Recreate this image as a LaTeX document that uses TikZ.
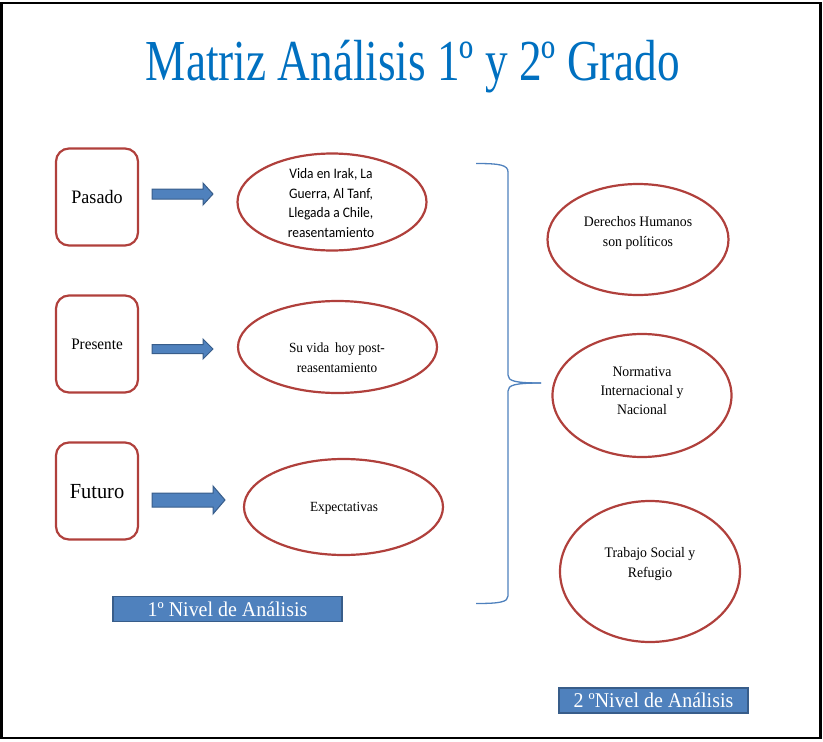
\documentclass[tikz,border=0pt]{standalone}
\usepackage{fontspec}
\setmainfont{Liberation Serif}
\newfontfamily\tnr[FakeStretch=0.95]{Liberation Serif}
\newfontfamily\tnrtitle[FakeStretch=0.78]{Liberation Serif}
\newfontfamily\calfont[FakeStretch=0.93]{Carlito}
\usetikzlibrary{shapes.geometric}
\definecolor{redc}{HTML}{B0403C}
\definecolor{bluef}{HTML}{4F81BD}
\definecolor{blued}{HTML}{385D8A}
\definecolor{titleblue}{HTML}{0070C0}
\begin{document}
\begin{tikzpicture}[x=1pt,y=-1pt,
  tbox/.style={draw=redc, line width=2.2pt, rounded corners=13pt, minimum width=82pt, minimum height=97pt, inner sep=0pt, text depth=0pt},
  ell/.style={draw=redc, ellipse, line width=2.2pt, inner sep=0pt},
  txt/.style={align=center, inner sep=0pt, font=\tnr\fontsize{14}{20}\selectfont},
  blk/.style={fill=bluef, draw=blued, line width=1pt, line join=miter},
  lbl/.style={fill=bluef, draw=blued, line width=1.2pt, text=white, inner sep=0pt, font=\tnr\fontsize{21}{24}\selectfont},
  brace/.style={draw=bluef, line width=1.3pt}]
\useasboundingbox (0,0) rectangle (823,742);
\draw[line width=2.6pt] (1.3,3) rectangle (820.7,738);
% title
\node[anchor=base, text=titleblue, inner sep=0pt, font=\tnrtitle\fontsize{58}{60}\selectfont] (title) at (413,80) {Matriz Análisis 1º y 2º Grado};
% left boxes
\node[tbox, font=\tnr\fontsize{19}{22}\selectfont] (p1) at (97,197) {Pasado};
\node[tbox, font=\tnr\fontsize{16}{20}\selectfont] (p2) at (97,344) {Presente};
\node[tbox, font=\tnr\fontsize{21.5}{24}\selectfont] (p3) at (97,491) {Futuro};
% arrows
\filldraw[blk] (152,189) -- (203,189) -- (203,183) -- (213,194) -- (203,205) -- (203,199) -- (152,199) -- cycle;
\filldraw[blk] (152,344.5) -- (203,344.5) -- (203,339) -- (213,349) -- (203,359) -- (203,353.5) -- (152,353.5) -- cycle;
\filldraw[blk] (152,493) -- (213,493) -- (213,486) -- (225,500) -- (213,514) -- (213,507) -- (152,507) -- cycle;
% middle ellipses
\node[ell, minimum width=189pt, minimum height=97pt] (e1) at (332,202) {};
\node[align=center, inner sep=0pt, font=\calfont\fontsize{14.5}{19.5}\selectfont] (t1) at (331,203) {Vida en Irak, La\\Guerra, Al Tanf,\\Llegada a Chile,\\reasentamiento};
\node[ell, minimum width=199pt, minimum height=92pt] (e2) at (337.5,347) {};
\node[txt] (t2) at (337,358) {Su vida\, hoy post-\\reasentamiento};
\node[ell, minimum width=199pt, minimum height=96pt] (e3) at (343.5,507) {};
\node[txt] (t3) at (344,508) {Expectativas};
% brace
\draw[brace] (476,163.5) .. controls (500,163.5) and (508,165) .. (508,172) -- (508,375) .. controls (508,381) and (515,383) .. (541,383);
\draw[brace] (541,383) .. controls (515,383) and (508,385) .. (508,391) -- (508,596) .. controls (508,602) and (500,603.5) .. (476,603.5);
% right ellipses
\node[ell, minimum width=181pt, minimum height=111pt] (r1) at (638,239.5) {};
\node[txt, font=\tnr\fontsize{14.5}{20}\selectfont] (rt1) at (638,233) {Derechos Humanos\\son políticos};
\node[ell, minimum width=179pt, minimum height=123pt] (r2) at (642,395.5) {};
\node[txt, font=\tnr\fontsize{14.5}{19}\selectfont] (rt2) at (642,391) {Normativa\\Internacional y\\Nacional};
\node[ell, minimum width=180pt, minimum height=141pt] (r3) at (650,571.5) {};
\node[txt, font=\tnr\fontsize{14.5}{20}\selectfont] (rt3) at (650,564) {Trabajo Social y\\Refugio};
% level labels
\node[lbl, minimum width=229pt, minimum height=25pt] (l1) at (227.5,609) {1º Nivel de Análisis};
\node[lbl, minimum width=189pt, minimum height=25pt] (l2) at (653.5,700.5) {2 ºNivel de Análisis};
\end{tikzpicture}
\end{document}
